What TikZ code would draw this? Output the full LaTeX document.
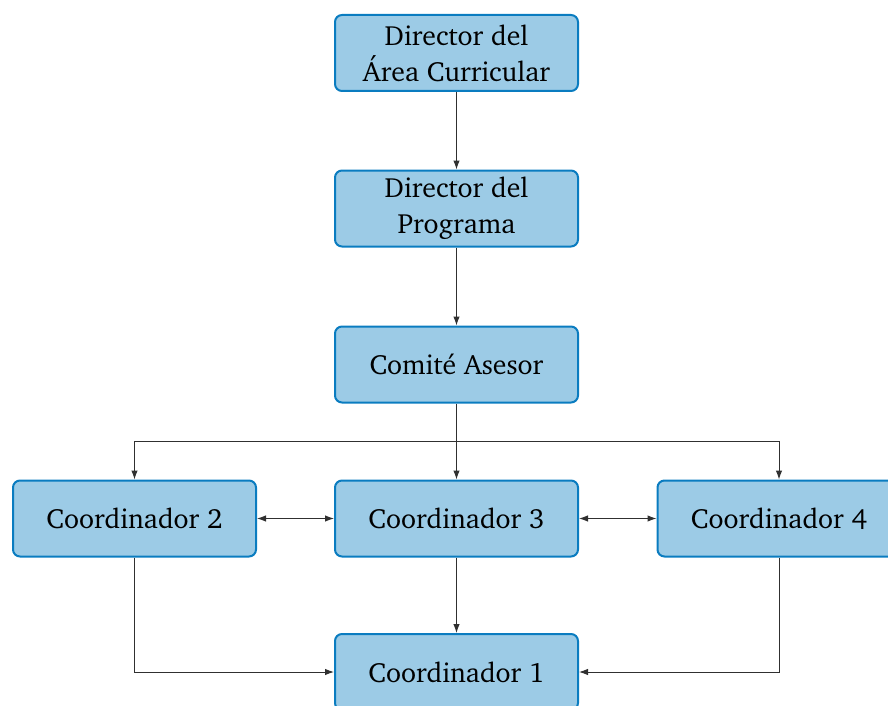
\documentclass[tikz,border=0pt]{standalone}
\usepackage[T1]{fontenc}
\usepackage{charter}
\usetikzlibrary{arrows.meta,positioning}
\definecolor{boxfill}{HTML}{9CCBE6}
\definecolor{boxedge}{HTML}{0A7CC0}
\definecolor{lnk}{HTML}{303030}
\begin{document}
\begin{tikzpicture}[x=1pt,y=-1pt,
  box/.style={draw=boxedge,fill=boxfill,line width=2pt,rounded corners=7pt,
    minimum width=243pt,minimum height=76pt,align=center,inner sep=0pt,
    font=\fontsize{27.8}{36}\selectfont},
  link/.style={draw=lnk,line width=1pt,-{Latex[length=9pt,width=6.5pt]}},
  dlink/.style={draw=lnk,line width=1pt,{Latex[length=9pt,width=6.5pt]}-{Latex[length=9pt,width=6.5pt]}}]
\useasboundingbox (0,0) rectangle (888,706);
\node[box] (dac) at (456.5,53) {Director del\\Área Curricular};
\node[box] (dp) at (456.5,208.5) {Director del\\Programa};
\node[box] (ca) at (456.5,364.5) {Comité Asesor};
\node[box] (c2) at (134.5,518.5) {Coordinador 2};
\node[box] (c3) at (456.5,518.5) {Coordinador 3};
\node[box] (c4) at (779,518.5) {Coordinador 4};
\node[box] (c1) at (456.5,672) {Coordinador 1};
\coordinate (j) at (456.5,441);
\draw[link] (dac) -- (dp);
\draw[link] (dp) -- (ca);
\draw[draw=lnk,line width=1pt] (ca.south) -- (j);
\draw[link] (j) -- (c3);
\draw[link] (j) -| (c2);
\draw[link] (j) -| (c4);
\draw[dlink] (c2) -- (c3);
\draw[dlink] (c3) -- (c4);
\draw[link] (c3) -- (c1);
\draw[link] (c2) |- (c1);
\draw[link] (c4) |- (c1);
\end{tikzpicture}
\end{document}
